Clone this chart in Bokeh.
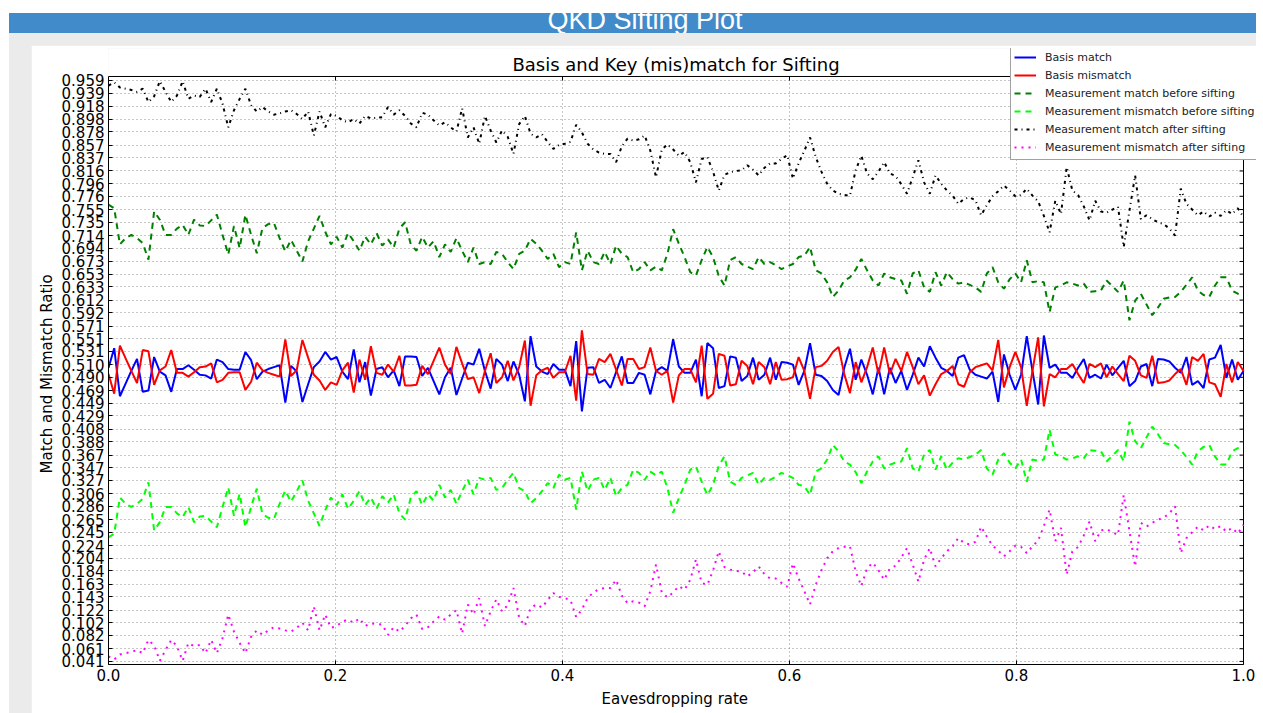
import numpy as np
from bokeh.plotting import figure
from bokeh.models import (FixedTicker, Legend, LegendItem, Div, Spacer, Label, Title,
                          Range1d, PrintfTickFormatter)
from bokeh.layouts import column, row
from bokeh.embed import file_html
from bokeh.resources import INLINE

# ---------------- data ----------------
eavesdropping_rate = np.linspace(0.0, 1.0, 200)

basis_match = [
0.505,0.536,0.460,0.480,0.500,0.519,0.467,0.469,0.522,0.499,
0.493,0.467,0.503,0.503,0.509,0.502,0.494,0.493,0.488,0.518,
0.514,0.503,0.502,0.502,0.530,0.517,0.487,0.499,0.503,0.506,
0.509,0.450,0.508,0.499,0.451,0.479,0.506,0.515,0.530,0.518,
0.522,0.499,0.487,0.534,0.482,0.514,0.461,0.503,0.506,0.490,
0.501,0.476,0.523,0.523,0.522,0.492,0.505,0.484,0.463,0.490,
0.505,0.462,0.488,0.513,0.510,0.535,0.500,0.472,0.519,0.510,
0.484,0.515,0.494,0.452,0.555,0.507,0.499,0.495,0.511,0.502,
0.502,0.476,0.547,0.436,0.505,0.506,0.481,0.486,0.473,0.498,
0.523,0.481,0.481,0.497,0.494,0.463,0.500,0.506,0.500,0.550,
0.507,0.497,0.497,0.518,0.460,0.544,0.536,0.473,0.476,0.523,
0.521,0.484,0.492,0.521,0.486,0.494,0.521,0.486,0.514,0.513,
0.510,0.478,0.500,0.544,0.494,0.492,0.484,0.470,0.462,0.505,
0.535,0.486,0.518,0.494,0.463,0.505,0.463,0.505,0.481,0.500,
0.470,0.494,0.521,0.507,0.539,0.521,0.505,0.500,0.492,0.521,
0.525,0.502,0.494,0.491,0.488,0.499,0.451,0.526,0.494,0.470,
0.494,0.555,0.500,0.447,0.556,0.505,0.510,0.497,0.497,0.489,
0.505,0.519,0.489,0.494,0.488,0.510,0.493,0.505,0.516,0.476,
0.484,0.507,0.511,0.476,0.519,0.518,0.515,0.505,0.497,0.522,
0.478,0.484,0.473,0.518,0.521,0.541,0.489,0.518,0.486,0.500]

basis_mismatch = [
0.495,0.464,0.540,0.520,0.500,0.481,0.533,0.531,0.478,0.501,
0.507,0.533,0.497,0.497,0.491,0.498,0.506,0.507,0.512,0.482,
0.486,0.497,0.498,0.498,0.470,0.483,0.513,0.501,0.497,0.494,
0.491,0.550,0.492,0.501,0.549,0.521,0.494,0.485,0.470,0.482,
0.478,0.501,0.513,0.466,0.518,0.486,0.539,0.497,0.494,0.510,
0.499,0.524,0.477,0.477,0.478,0.508,0.495,0.516,0.537,0.510,
0.495,0.538,0.512,0.487,0.490,0.465,0.500,0.528,0.481,0.490,
0.516,0.485,0.506,0.548,0.445,0.493,0.501,0.505,0.489,0.498,
0.498,0.524,0.453,0.564,0.495,0.494,0.519,0.514,0.527,0.502,
0.477,0.519,0.519,0.503,0.506,0.537,0.500,0.494,0.500,0.450,
0.493,0.503,0.503,0.482,0.540,0.456,0.464,0.527,0.524,0.477,
0.479,0.516,0.508,0.479,0.514,0.506,0.479,0.514,0.486,0.487,
0.490,0.522,0.500,0.456,0.506,0.508,0.516,0.530,0.538,0.495,
0.465,0.514,0.482,0.506,0.537,0.495,0.537,0.495,0.519,0.500,
0.530,0.506,0.479,0.493,0.461,0.479,0.495,0.500,0.508,0.479,
0.475,0.498,0.506,0.509,0.512,0.501,0.549,0.474,0.506,0.530,
0.506,0.445,0.500,0.553,0.444,0.495,0.490,0.503,0.503,0.511,
0.495,0.481,0.511,0.506,0.512,0.490,0.507,0.495,0.484,0.524,
0.516,0.493,0.489,0.524,0.481,0.482,0.485,0.495,0.503,0.478,
0.522,0.516,0.527,0.482,0.479,0.459,0.511,0.482,0.514,0.500]

match_before = [
0.763,0.757,0.700,0.710,0.715,0.710,0.702,0.676,0.752,0.739,
0.715,0.715,0.725,0.731,0.715,0.739,0.730,0.729,0.738,0.747,
0.715,0.684,0.729,0.694,0.747,0.715,0.686,0.726,0.732,0.734,
0.710,0.689,0.707,0.690,0.673,0.705,0.725,0.745,0.720,0.700,
0.712,0.695,0.718,0.705,0.690,0.712,0.700,0.718,0.698,0.708,
0.695,0.725,0.735,0.700,0.690,0.712,0.695,0.705,0.680,0.700,
0.688,0.710,0.690,0.672,0.695,0.669,0.672,0.669,0.688,0.685,
0.672,0.661,0.685,0.690,0.709,0.701,0.690,0.677,0.685,0.664,
0.672,0.669,0.719,0.659,0.690,0.672,0.669,0.688,0.669,0.698,
0.685,0.680,0.656,0.661,0.672,0.659,0.665,0.659,0.685,0.724,
0.701,0.680,0.656,0.651,0.675,0.696,0.680,0.650,0.635,0.675,
0.680,0.669,0.665,0.661,0.680,0.669,0.672,0.667,0.661,0.665,
0.669,0.680,0.682,0.696,0.659,0.654,0.640,0.617,0.627,0.643,
0.648,0.660,0.677,0.659,0.643,0.635,0.654,0.648,0.645,0.643,
0.622,0.654,0.659,0.632,0.625,0.656,0.635,0.656,0.645,0.638,
0.640,0.636,0.632,0.625,0.654,0.664,0.640,0.630,0.645,0.654,
0.640,0.675,0.640,0.642,0.640,0.593,0.632,0.635,0.640,0.638,
0.635,0.638,0.625,0.626,0.627,0.643,0.634,0.625,0.643,0.580,
0.611,0.622,0.605,0.588,0.600,0.614,0.616,0.617,0.625,0.636,
0.648,0.627,0.620,0.617,0.635,0.648,0.648,0.627,0.622,0.619]

mismatch_before = [
0.237,0.243,0.300,0.290,0.285,0.290,0.298,0.324,0.248,0.261,
0.285,0.285,0.275,0.269,0.285,0.261,0.270,0.271,0.262,0.253,
0.285,0.316,0.271,0.306,0.253,0.285,0.314,0.274,0.268,0.266,
0.290,0.311,0.293,0.310,0.327,0.295,0.275,0.255,0.280,0.300,
0.288,0.305,0.282,0.295,0.310,0.288,0.300,0.282,0.302,0.292,
0.305,0.275,0.265,0.300,0.310,0.288,0.305,0.295,0.320,0.300,
0.312,0.290,0.310,0.328,0.305,0.331,0.328,0.331,0.312,0.315,
0.328,0.339,0.315,0.310,0.291,0.299,0.310,0.323,0.315,0.336,
0.328,0.331,0.281,0.341,0.310,0.328,0.331,0.312,0.331,0.302,
0.315,0.320,0.344,0.339,0.328,0.341,0.335,0.341,0.315,0.276,
0.299,0.320,0.344,0.349,0.325,0.304,0.320,0.350,0.365,0.325,
0.320,0.331,0.335,0.339,0.320,0.331,0.328,0.333,0.339,0.335,
0.331,0.320,0.318,0.304,0.341,0.346,0.360,0.383,0.373,0.357,
0.352,0.340,0.323,0.341,0.357,0.365,0.346,0.352,0.355,0.357,
0.378,0.346,0.341,0.368,0.375,0.344,0.365,0.344,0.355,0.362,
0.360,0.364,0.368,0.375,0.346,0.336,0.360,0.370,0.355,0.346,
0.360,0.325,0.360,0.358,0.360,0.407,0.368,0.365,0.360,0.362,
0.365,0.362,0.375,0.374,0.373,0.357,0.366,0.375,0.357,0.420,
0.389,0.378,0.395,0.412,0.400,0.386,0.384,0.383,0.375,0.364,
0.352,0.373,0.380,0.383,0.365,0.352,0.352,0.373,0.378,0.381]

match_after = [
0.951,0.956,0.948,0.946,0.944,0.941,0.946,0.925,0.934,0.958,
0.941,0.925,0.935,0.958,0.930,0.935,0.933,0.946,0.925,0.946,
0.922,0.885,0.912,0.930,0.946,0.920,0.910,0.917,0.910,0.905,
0.907,0.910,0.912,0.906,0.898,0.910,0.872,0.910,0.885,0.906,
0.903,0.896,0.893,0.898,0.891,0.903,0.899,0.900,0.901,0.917,
0.905,0.912,0.903,0.891,0.885,0.908,0.905,0.896,0.888,0.893,
0.885,0.878,0.915,0.869,0.885,0.859,0.903,0.880,0.861,0.880,
0.870,0.843,0.890,0.903,0.875,0.869,0.874,0.862,0.851,0.857,
0.859,0.862,0.889,0.877,0.859,0.850,0.845,0.843,0.843,0.830,
0.855,0.867,0.864,0.866,0.872,0.848,0.806,0.850,0.858,0.850,
0.840,0.846,0.830,0.798,0.835,0.838,0.815,0.785,0.810,0.814,
0.816,0.817,0.825,0.818,0.809,0.821,0.828,0.828,0.835,0.841,
0.804,0.828,0.848,0.869,0.838,0.815,0.796,0.785,0.780,0.778,
0.777,0.817,0.840,0.812,0.803,0.815,0.830,0.812,0.808,0.795,
0.780,0.806,0.833,0.798,0.780,0.809,0.796,0.785,0.777,0.764,
0.772,0.774,0.770,0.746,0.762,0.776,0.784,0.793,0.785,0.776,
0.778,0.788,0.777,0.768,0.745,0.719,0.769,0.748,0.822,0.785,
0.778,0.760,0.738,0.769,0.752,0.750,0.755,0.759,0.696,0.753,
0.809,0.740,0.746,0.740,0.735,0.732,0.725,0.714,0.788,0.764,
0.755,0.746,0.752,0.744,0.750,0.745,0.754,0.748,0.757,0.743]

mismatch_after = [
0.049,0.044,0.052,0.054,0.056,0.059,0.054,0.075,0.066,0.042,
0.059,0.075,0.065,0.042,0.070,0.065,0.067,0.054,0.075,0.054,
0.078,0.115,0.088,0.070,0.054,0.080,0.090,0.083,0.090,0.095,
0.093,0.090,0.088,0.094,0.102,0.090,0.128,0.090,0.115,0.094,
0.097,0.104,0.107,0.102,0.109,0.097,0.101,0.100,0.099,0.083,
0.095,0.088,0.097,0.109,0.115,0.092,0.095,0.104,0.112,0.107,
0.115,0.122,0.085,0.131,0.115,0.141,0.097,0.120,0.139,0.120,
0.130,0.157,0.110,0.097,0.125,0.131,0.126,0.138,0.149,0.143,
0.141,0.138,0.111,0.123,0.141,0.150,0.155,0.157,0.157,0.170,
0.145,0.133,0.136,0.134,0.128,0.152,0.194,0.150,0.142,0.150,
0.160,0.154,0.170,0.202,0.165,0.162,0.185,0.215,0.190,0.186,
0.184,0.183,0.175,0.182,0.191,0.179,0.172,0.172,0.165,0.159,
0.196,0.172,0.152,0.131,0.162,0.185,0.204,0.215,0.220,0.222,
0.223,0.183,0.160,0.188,0.197,0.185,0.170,0.188,0.192,0.205,
0.220,0.194,0.167,0.202,0.220,0.191,0.204,0.215,0.223,0.236,
0.228,0.226,0.230,0.254,0.238,0.224,0.216,0.207,0.215,0.224,
0.222,0.212,0.223,0.232,0.255,0.281,0.231,0.252,0.178,0.215,
0.222,0.240,0.262,0.231,0.248,0.250,0.245,0.241,0.304,0.247,
0.191,0.260,0.254,0.260,0.265,0.268,0.275,0.286,0.212,0.236,
0.245,0.254,0.248,0.256,0.250,0.255,0.246,0.252,0.243,0.257]

y_ticks = [0.041,0.061,0.082,0.102,0.122,0.143,0.163,0.184,0.204,0.224,
           0.245,0.265,0.286,0.306,0.327,0.347,0.367,0.388,0.408,0.429,
           0.449,0.469,0.490,0.510,0.531,0.551,0.571,0.592,0.612,0.633,
           0.653,0.673,0.694,0.714,0.735,0.755,0.776,0.796,0.816,0.837,
           0.857,0.878,0.898,0.918,0.939,0.959]
x_ticks = [0.0, 0.2, 0.4, 0.6, 0.8, 1.0]

series_labels = ["Basis match", "Basis mismatch",
                 "Measurement match before sifting", "Measurement mismatch before sifting",
                 "Measurement match after sifting", "Measurement mismatch after sifting"]
chart_title = "Basis and Key (mis)match for Sifting"
x_label = "Eavesdropping rate"
y_label = "Match and Mismatch Ratio"

FONT = "DejaVu Sans"

# visible axes box (data units) and the extra room kept for the legend / title
X_LO, X_HI = 0.0, 1.0
Y_LO, Y_HI = 0.0361, 0.9653
PX_X = 1.0 / 1135.0        # data units per pixel, x
PX_Y = 0.0204 / 12.91      # data units per pixel, y
X_END = X_HI + 13 * PX_X
Y_END = Y_HI + 28 * PX_Y

# ---------------- figure ----------------
p = figure(width=1225, height=668, x_range=Range1d(X_LO, X_END), y_range=Range1d(Y_LO, Y_END),
           output_backend="svg", toolbar_location=None, title=None,
           min_border_left=77, min_border_right=0, min_border_top=3, min_border_bottom=49,
           background_fill_color="white", border_fill_color="white")
p.outline_line_color = None

def style_axis(ax, ticks, fmt):
    ax.ticker = FixedTicker(ticks=ticks)
    ax.formatter = PrintfTickFormatter(format=fmt)
    ax.axis_line_color = "black"
    ax.major_tick_line_color = "black"
    ax.major_tick_in = 4
    ax.major_tick_out = 0
    ax.minor_tick_line_color = None
    ax.major_label_text_font = FONT
    ax.major_label_text_color = "black"
    ax.major_label_text_font_size = "15px"
    ax.major_label_standoff = 4

style_axis(p.xaxis[0], x_ticks, "%.1f")
p.xaxis[0].bounds = (X_LO, X_HI)
style_axis(p.yaxis[0], y_ticks, "%.3f")
p.yaxis[0].bounds = (Y_LO, Y_HI)

# axis titles, placed so that they are centred on the visible box
p.add_layout(Title(text=x_label, align="left", offset=493, vertical_align="bottom",
                   standoff=8, text_font=FONT, text_font_size="15px",
                   text_font_style="normal", text_color="black"), "below")
p.add_layout(Title(text=y_label, align="left", offset=191, vertical_align="bottom",
                   standoff=6, text_font=FONT, text_font_size="15px",
                   text_font_style="normal", text_color="black"), "left")

p.xgrid.ticker = FixedTicker(ticks=x_ticks)
p.ygrid.ticker = FixedTicker(ticks=y_ticks)
p.xgrid[0].cross_bounds = (Y_LO, Y_HI)
p.ygrid[0].cross_bounds = (X_LO, X_HI)
for g in (p.xgrid[0], p.ygrid[0]):
    g.grid_line_color = "#8c8c8c"
    g.grid_line_width = 1
    g.grid_line_dash = "1 3"

# box round the axes, with inward ticks on the right and top sides
p.quad(left=[X_LO], right=[X_HI], bottom=[Y_LO], top=[Y_HI],
       fill_color=None, line_color="black", line_width=1)
p.segment(x0=[X_HI - 4 * PX_X] * len(y_ticks), x1=[X_HI] * len(y_ticks),
          y0=y_ticks, y1=y_ticks, line_color="black", line_width=1)
p.segment(x0=x_ticks, x1=x_ticks, y0=[Y_HI - 4 * PX_Y] * len(x_ticks),
          y1=[Y_HI] * len(x_ticks), line_color="black", line_width=1)

p.add_layout(Label(x=0.5, y=Y_HI + 12 * PX_Y, x_units="data", y_units="data", text=chart_title,
                   text_align="center", text_baseline="alphabetic",
                   text_font=FONT, text_font_size="18px", text_color="black"))

styles = [
    dict(color="#0000ff", line_dash="solid"),
    dict(color="#ff0000", line_dash="solid"),
    dict(color="#008000", line_dash="6 5"),
    dict(color="#00ff00", line_dash="6 5"),
    dict(color="#000000", line_dash="3 4 1 4"),
    dict(color="#ff00ff", line_dash="2 5"),
]
series = [basis_match, basis_mismatch, match_before, mismatch_before, match_after, mismatch_after]

items = []
for lab, ys, st in zip(series_labels, series, styles):
    r = p.line(eavesdropping_rate, ys, line_color=st["color"], line_width=2,
               line_dash=st["line_dash"])
    items.append(LegendItem(label=lab, renderers=[r]))

legend = Legend(items=items, location=(902, 504))
legend.label_text_font = FONT
legend.label_text_font_size = "11px"
legend.label_text_color = "#222222"
legend.label_height = 18
legend.glyph_height = 18
legend.glyph_width = 22
legend.label_standoff = 9
legend.spacing = 0
legend.padding = 3
legend.margin = 0
legend.border_line_color = "#444444"
legend.border_line_width = 1
legend.background_fill_color = "white"
legend.background_fill_alpha = 1.0
p.add_layout(legend, "center")

# ---------------- page frame ----------------
header = Div(text="QKD Sifting Plot", width=1247, height=20, margin=0,
             styles={"background-color": "#428bca", "color": "white",
                     "font-family": "Liberation Sans, Arial, sans-serif",
                     "font-size": "27px", "line-height": "15px",
                     "text-align": "center", "text-indent": "25px",
                     "overflow": "hidden", "white-space": "nowrap"})

grey = column(Spacer(width=1247, height=12),
              row(Spacer(width=22, height=668), p, spacing=0),
              spacing=0, styles={"background-color": "#ebebeb"})

root = column(Spacer(width=1263, height=13),
              row(Spacer(width=9, height=20), header, spacing=0),
              row(Spacer(width=9, height=680), grey, spacing=0),
              spacing=0)

open("out.html", "w").write(file_html(root, INLINE))
